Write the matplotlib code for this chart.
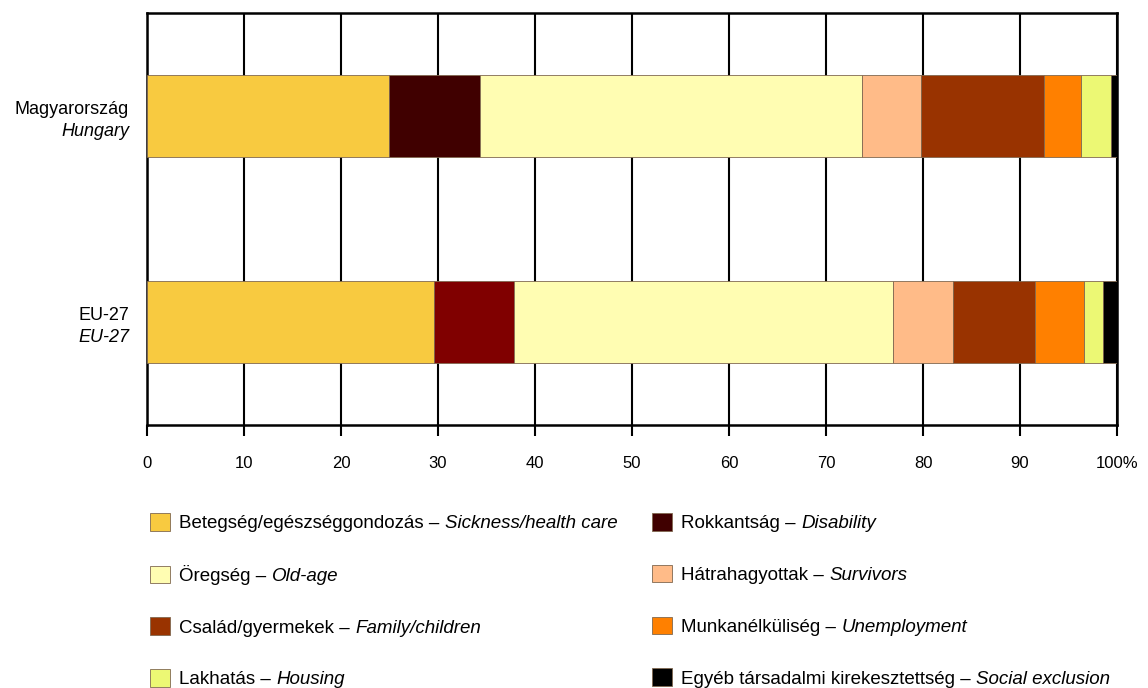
import matplotlib
matplotlib.use("Agg")
import matplotlib.pyplot as plt
from matplotlib.patches import Patch
from matplotlib.text import Annotation
import numpy as np

# Data (share of social protection expenditure by function, %)
countries_hu = ["Magyarország", "EU-27"]
countries_en = ["Hungary", "EU-27"]
functions_hu = ["Betegség/egészséggondozás", "Rokkantság", "Öregség", "Hátrahagyottak",
                "Család/gyermekek", "Munkanélküliség", "Lakhatás",
                "Egyéb társadalmi kirekesztettség"]
functions_en = ["Sickness/health care", "Disability", "Old-age", "Survivors",
                "Family/children", "Unemployment", "Housing", "Social exclusion"]
hungary = [24.9, 9.4, 39.4, 6.1, 12.7, 3.75, 3.1, 0.65]
eu27 = [29.6, 8.2, 39.1, 6.2, 8.4, 5.1, 2.0, 1.4]
xticks = [0, 10, 20, 30, 40, 50, 60, 70, 80, 90, 100]
xticklabels = ["0", "10", "20", "30", "40", "50", "60", "70", "80", "90", "100%"]

colors = ["#F8CA40", "#400000", "#FFFDB2", "#FFBB88", "#993300", "#FF8000", "#ECF874", "#000000"]
eu_colors = list(colors)
eu_colors[1] = "#800000"

FONT = ["Liberation Sans", "DejaVu Sans"]

W, H = 1148, 688
fig = plt.figure(figsize=(W / 100, H / 100), dpi=100)
ax = fig.add_axes([147 / W, 1 - 425 / H, (1117 - 147) / W, (425 - 13) / H])

values = np.array([hungary, eu27])
ypos = np.arange(len(countries_hu))
left = np.zeros(len(countries_hu))
for i in range(len(functions_hu)):
    cols = [colors[i], eu_colors[i]]
    ax.barh(ypos, values[:, i], left=left, height=0.4, color=cols,
            edgecolor="#806850", linewidth=0.6, zorder=3)
    left += values[:, i]

ax.set_xlim(0, 100)
ax.set_ylim(1.5, -0.5)
ax.set_xticks(xticks)
ax.set_xticklabels(xticklabels, family=FONT, fontsize=12)
ax.set_yticks([])
ax.tick_params(axis="x", direction="out", length=8, width=1.5, pad=14, color="black")
ax.grid(axis="x", color="black", linewidth=1.5, zorder=0)
ax.set_axisbelow(True)
for s in ax.spines.values():
    s.set_linewidth(1.8)
    s.set_color("black")

# y labels: Hungarian upright, English italic
for y, hu, en in zip(ypos, countries_hu, countries_en):
    ax.annotate(hu, xy=(0, y), xycoords=("axes fraction", "data"), xytext=(-18, 7),
                textcoords="offset pixels", ha="right", va="center", fontsize=13, family=FONT)
    ax.annotate(en, xy=(0, y), xycoords=("axes fraction", "data"), xytext=(-18, -15),
                textcoords="offset pixels", ha="right", va="center", fontsize=13,
                family=FONT, style="italic")

# legend: two columns
order = [[0, 2, 4, 6], [1, 3, 5, 7]]
anchors = [150, 652]
fs = 13.5
fpx = fs * 100 / 72
for col, x0 in zip(order, anchors):
    handles = [Patch(facecolor=colors[i], edgecolor="#806850", linewidth=0.6) for i in col]
    labels = [functions_hu[i] + " – " for i in col]
    leg = fig.legend(handles, labels, loc="upper left", bbox_to_anchor=(x0 / W, 1 - 513 / H),
                     frameon=False, borderpad=0, borderaxespad=0, handlelength=20 / fpx,
                     handleheight=20 / fpx, handletextpad=0.5, labelspacing=1.74,
                     prop={"family": FONT, "size": fs})
    for t, i in zip(leg.get_texts(), col):
        a = Annotation(functions_en[i], xy=(1, 0), xycoords=t, va="bottom", ha="left",
                       fontsize=fs, family=FONT, style="italic", zorder=10)
        fig.add_artist(a)

fig.savefig("out.png", dpi=100)
